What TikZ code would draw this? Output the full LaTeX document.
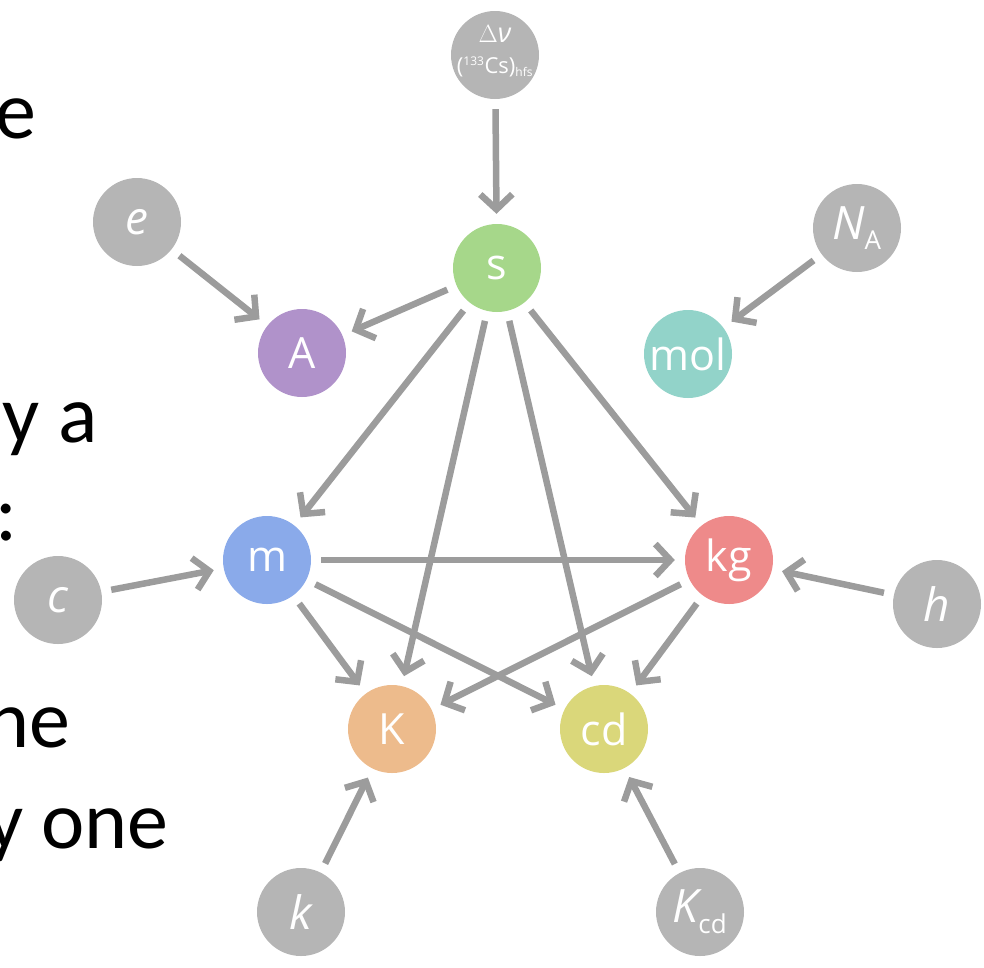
\documentclass[tikz,border=0pt]{standalone}
\usepackage{fontspec}
\setmainfont{Open Sans}
\newfontfamily\slidefont{Carlito}
\usetikzlibrary{arrows.meta}
\definecolor{cgray}{HTML}{B5B5B5}
\definecolor{cline}{HTML}{9C9C9C}
\definecolor{cs}{HTML}{A6D78A}
\definecolor{cA}{HTML}{B092CA}
\definecolor{cmol}{HTML}{92D3C9}
\definecolor{cm}{HTML}{8AAAEA}
\definecolor{ckg}{HTML}{EE8A8A}
\definecolor{cK}{HTML}{EDBB8C}
\definecolor{ccd}{HTML}{DAD77A}
\tikzset{
  unit/.style={circle, minimum size=88pt, inner sep=0pt, text=white, font=\fontsize{43}{46}\selectfont},
  const/.style={unit, fill=cgray, font=\fontsize{46}{50}\selectfont\itshape},
  link/.style={draw=cline, line width=6.5pt, shorten >=10pt, shorten <=10pt,
    -{Straight Barb[length=15pt,width=32pt]}},
  slide/.style={font=\slidefont\fontsize{82}{90}\selectfont, anchor=base east, inner sep=0pt}
}
\begin{document}
\begin{tikzpicture}[x=1pt,y=-1pt]
\useasboundingbox (0,0) rectangle (984,967);
% slide text fragments
\node[slide] (t1) at (36,138) {e};
\node[slide] (t2) at (98,442) {y a};
\node[slide] (t3) at (18,540) {:};
\node[slide] (t4) at (71,747) {ne};
\node[slide] (t5) at (169,848) {y one};
% unit nodes
\node[unit, fill=cs] (s) at (497,268) {s};
\node[unit, fill=cA] (A) at (302,353) {A};
\node[unit, fill=cmol] (mol) at (688,354) {mol};
\node[unit, fill=cm] (m) at (267,560) {m};
\node[unit, fill=ckg] (kg) at (729,560) {kg};
\node[unit, fill=cK] (K) at (392,729) {K};
\node[unit, fill=ccd] (cd) at (604,729) {cd};
% constants
\node[const] (dnu) at (495,55) {};
\node[text=white, font=\fontsize{27}{29}\selectfont, inner sep=0pt] (dnut) at (495,34) {$\Delta$\textit{ν}};
\node[text=white, font=\fontsize{22}{24}\selectfont, inner sep=0pt] (cst) at (495,67) {(\textsuperscript{\fontsize{12}{13}\selectfont 133}Cs)\textsubscript{\fontsize{12}{13}\selectfont hfs}};
\node[const] (e) at (137,222) {e};
\node[const] (NA) at (857,228) {N\textsubscript{\upshape\fontsize{26}{28}\selectfont A}};
\node[const] (c) at (58,600) {c};
\node[const] (h) at (937,604) {h};
\node[const] (k) at (301,912) {k};
\node[const] (Kcd) at (700,912) {K\textsubscript{\upshape\fontsize{26}{28}\selectfont cd}};
% links
\draw[link] (dnu) -- (s);
\draw[link] (e) -- (A);
\draw[link] (s) -- (A);
\draw[link] (NA) -- (mol);
\draw[link] (s) -- (m);
\draw[link] (s) -- (K);
\draw[link] (s) -- (cd);
\draw[link] (s) -- (kg);
\draw[link] (m) -- (kg);
\draw[link] (c) -- (m);
\draw[link] (h) -- (kg);
\draw[link] (m) -- (K);
\draw[link] (m) -- (cd);
\draw[link] (kg) -- (K);
\draw[link] (kg) -- (cd);
\draw[link] (k) -- (K);
\draw[link] (Kcd) -- (cd);
\end{tikzpicture}
\end{document}
